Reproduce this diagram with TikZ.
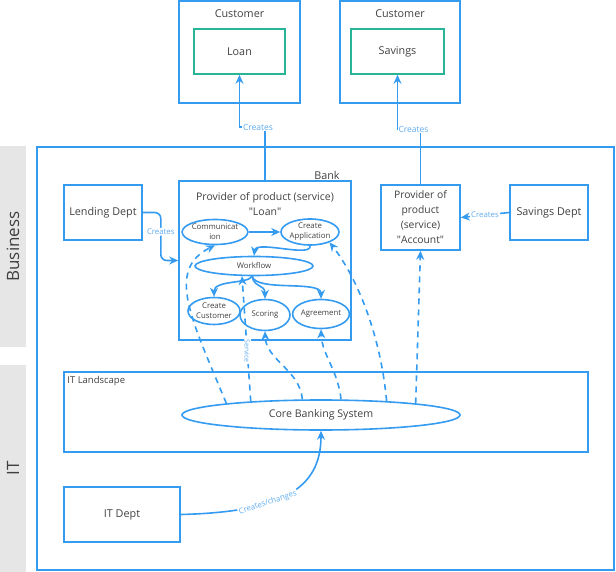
\documentclass[tikz,border=0pt]{standalone}
\usepackage{fontspec}
\setmainfont{Open Sans}
\usepackage{tikz}
\usetikzlibrary{shapes.geometric, arrows.meta, positioning}
\definecolor{LineBlue}{RGB}{52,155,240}
\definecolor{LabelBlue}{RGB}{95,172,240}
\definecolor{ProdGreen}{RGB}{40,180,150}
\definecolor{TextGray}{RGB}{64,64,64}
\definecolor{LaneGray}{RGB}{230,230,230}

\begin{document}
\begin{tikzpicture}[
    x=1pt, y=-1pt,
    bbox/.style={draw=LineBlue, line width=1.6pt, rectangle, inner sep=0pt, text=TextGray, font=\fontsize{10.8}{15}\selectfont, align=center},
    pbox/.style={bbox, draw=ProdGreen},
    proc/.style={draw=LineBlue, line width=1.6pt, ellipse, inner sep=0pt, text=TextGray, font=\fontsize{7.8}{10}\selectfont, align=center},
    lane/.style={fill=LaneGray, inner sep=0pt, text=TextGray, font=\fontsize{17}{20}\selectfont},
    title/.style={text=TextGray, inner sep=0pt, align=center, font=\fontsize{10.8}{13}\selectfont},
    lbl/.style={text=LabelBlue, fill=white, inner sep=1pt, font=\fontsize{7.8}{9}\selectfont},
    arrow/.style={-{Stealth[length=9pt, width=8pt]}, line width=1.6pt, color=LineBlue},
    dasharrow/.style={arrow, dash pattern=on 6pt off 5pt}
]
\useasboundingbox (0,0) rectangle (616,572);
% lanes
\node[lane, rotate=90, minimum width=201pt, minimum height=26pt] (business) at (13,246.5) {Business};
\node[lane, rotate=90, minimum width=207pt, minimum height=26pt] (it) at (13,468.5) {IT};
\node[bbox, minimum width=577pt, minimum height=423pt] (bank) at (325.5,358.5) {};
\node[title] (banklbl) at (327,175) {Bank};
% customer side
\node[bbox, minimum width=121pt, minimum height=102pt] (cust1) at (239.5,52) {};
\node[title, below=9pt of cust1.north] (cust1lbl) {Customer};
\node[pbox, minimum width=91pt, minimum height=45pt] (loan) at (239.5,51.5) {Loan};
\node[bbox, minimum width=120pt, minimum height=102pt] (cust2) at (400,52) {};
\node[title, below=9pt of cust2.north] (cust2lbl) {Customer};
\node[pbox, minimum width=93pt, minimum height=45pt] (sav) at (397.5,51.5) {Savings};
% business
\node[bbox, minimum width=78pt, minimum height=55pt] (lend) at (103,212.5) {Lending Dept};
\node[bbox, minimum width=78pt, minimum height=55pt] (savdept) at (549,212.5) {Savings Dept};
\node[bbox, minimum width=79pt, minimum height=65pt, font=\fontsize{10.3}{15}\selectfont] (provacc) at (420.5,217.5) {Provider of\\product\\(service)\\\textquotedbl Account\textquotedbl};
\node[bbox, minimum width=172pt, minimum height=159pt] (provloan) at (265,260.5) {};
\node[title, font=\fontsize{10.5}{15}\selectfont, below=12pt of provloan.north] (provloantxt) {Provider of product (service)\\\textquotedbl Loan\textquotedbl};
\node[proc, minimum width=64pt, minimum height=25pt] (comm) at (215,232) {Communicat\\ion};
\node[proc, minimum width=58pt, minimum height=26pt] (app) at (310,232) {Create\\Application};
\node[proc, minimum width=118pt, minimum height=19pt] (wf) at (254,266) {Workflow};
\node[proc, minimum width=52pt, minimum height=27pt] (newcust) at (214,311) {Create\\Customer};
\node[proc, minimum width=50pt, minimum height=31pt] (score) at (265,315) {Scoring};
\node[proc, minimum width=56pt, minimum height=29pt] (agree) at (321,314) {Agreement};
% it
\node[bbox, minimum width=524pt, minimum height=80pt] (itland) at (326,412) {};
\node[title, font=\fontsize{9.5}{11}\selectfont, below right=5pt and 4pt of itland.north west] (itlandlbl) {IT Landscape};
\node[proc, minimum width=278pt, minimum height=30pt, font=\fontsize{10.6}{12}\selectfont] (cbs) at (321,415) {Core Banking System};
\node[bbox, minimum width=116pt, minimum height=55pt] (itdept) at (122,514.5) {IT Dept};
% connectors
\draw[arrow] (provloan.north) -- ++(0,-53) node[lbl, xshift=-7pt, font=\fontsize{8.5}{10}\selectfont] (loanlbl) {Creates} -| (loan.south);
\draw[arrow] (provacc.north) -- ++(0,-55) node[lbl, xshift=-7pt, font=\fontsize{8.5}{10}\selectfont] (savtoplbl) {Creates} -| (sav.south);
\draw[arrow, rounded corners=6pt] (lend.east) -- ++(18,0) |- node[lbl, pos=0.2] (lendlbl) {Creates} (provloan.west);
\draw[arrow] (savdept.west) -- node[lbl] (savlbl) {Creates} (provacc.east);
\draw[arrow] (comm) -- (app);
\draw[arrow] (app.south) .. controls (312,258) and (256,240) .. (wf.north);
\draw[arrow] (wf.260) .. controls (248,284) and (214,280) .. (newcust.north);
\draw[arrow] (wf.260) .. controls (254,288) and (265,284) .. (score.north);
\draw[arrow] (wf.260) .. controls (256,292) and (321,280) .. (agree.north);
\draw[dasharrow] (cbs.173) .. controls (192,320) and (165,270) .. (comm.south);
\draw[dasharrow] (cbs.169.5) -- node[lbl, rotate=-90, pos=0.4, font=\fontsize{7}{8}\selectfont] (svclbl) {Service} (wf.220);
\draw[dasharrow] (cbs.140.4) .. controls (300,370) and (266,360) .. (score.south);
\draw[dasharrow] (cbs.38) .. controls (338,370) and (322,355) .. (agree.south);
\draw[dasharrow] (cbs.12.7) .. controls (380,330) and (355,275) .. (app.-28);
\draw[dasharrow] (cbs.7.2) -- (provacc.south);
\draw[arrow] (itdept.east) .. controls (280,512) and (321,490) .. node[lbl, sloped, pos=0.37] (itlbl) {Creates/changes} (cbs.south);
\end{tikzpicture}
\end{document}
